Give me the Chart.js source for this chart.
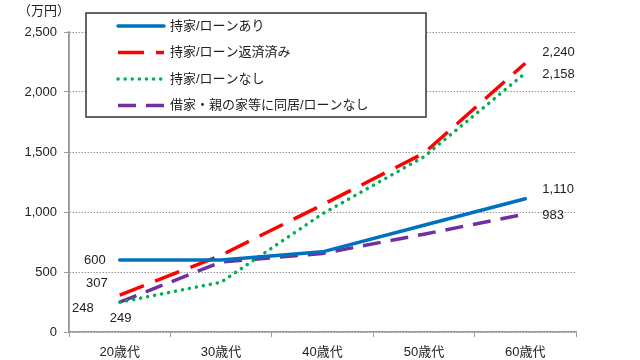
<!DOCTYPE html>
<html>
<head>
<meta charset="utf-8">
<script src="https://cdn.jsdelivr.net/npm/chart.js@4"></script>
<style>
  html, body { margin: 0; padding: 0; background: #fff; }
  #wrap { width: 640px; height: 360px; position: relative; }
</style>
</head>
<body>
<div id="wrap"><canvas id="chart" width="640" height="360"></canvas></div>
<script>
const categories = ['20歳代', '30歳代', '40歳代', '50歳代', '60歳代'];
const seriesNames = ['持家/ローンあり', '持家/ローン返済済み', '持家/ローンなし', '借家・親の家等に同居/ローンなし'];
const loanOwned = [600, 600, 668, 890, 1110];
const loanRepaid = [307, 640, 1060, 1490, 2240];
const noLoanOwned = [248, 415, 985, 1460, 2158];
const renting = [249, 583, 655, 815, 983];
const yTicks = [0, 500, 1000, 1500, 2000, 2500];

const FONT = '"Liberation Sans", "Noto Sans CJK JP", sans-serif';

// where the first / last value labels sit relative to their point
const labelSpots = [
  { first: [-14, 0, 'right'], last: [17, -9] },
  { first: [-12, -12, 'right'], last: [17, -11] },
  { first: [-26, 6, 'right'], last: [17, 1] },
  { first: [1, 16, 'center'], last: [17, 1] }
];

const endLabels = {
  id: 'endLabels',
  afterDatasetsDraw(chart) {
    const ctx = chart.ctx;
    ctx.save();
    ctx.font = '13px ' + FONT;
    ctx.fillStyle = '#222';
    ctx.textBaseline = 'middle';
    chart.data.datasets.forEach((ds, i) => {
      const pts = chart.getDatasetMeta(i).data;
      const a = pts[0], b = pts[pts.length - 1];
      const s = labelSpots[i];
      ctx.textAlign = s.first[2];
      ctx.fillText(ds.data[0].toLocaleString('en-US'), a.x + s.first[0], a.y + s.first[1]);
      ctx.textAlign = 'left';
      ctx.fillText(ds.data[ds.data.length - 1].toLocaleString('en-US'), b.x + s.last[0], b.y + s.last[1]);
    });
    ctx.restore();
  }
};

const boxLegend = {
  id: 'boxLegend',
  afterDraw(chart) {
    const ctx = chart.ctx;
    ctx.save();
    // solid y axis line (grid dash must not touch it)
    const { left, top, bottom } = chart.chartArea;
    ctx.strokeStyle = '#999';
    ctx.lineWidth = 1.5;
    ctx.beginPath();
    ctx.moveTo(left, top);
    ctx.lineTo(left, bottom);
    ctx.stroke();

    ctx.fillStyle = '#fff';
    ctx.fillRect(86, 13, 340, 104);
    ctx.strokeStyle = '#333';
    ctx.lineWidth = 1.5;
    ctx.strokeRect(86, 13, 340, 104);
    ctx.font = '13px ' + FONT;
    ctx.textBaseline = 'middle';
    ctx.textAlign = 'left';
    chart.data.datasets.forEach((ds, i) => {
      const y = 26 + i * 26.5;
      ctx.strokeStyle = ds.borderColor;
      ctx.lineWidth = ds.borderWidth;
      ctx.lineCap = ds.borderCapStyle || 'butt';
      ctx.setLineDash(ds.borderDash || []);
      ctx.beginPath();
      ctx.moveTo(118, y);
      ctx.lineTo(164, y);
      ctx.stroke();
      ctx.setLineDash([]);
      ctx.fillStyle = '#222';
      ctx.fillText(ds.label, 170, y);
    });
    ctx.fillStyle = '#222';
    ctx.fillText('（万円）', 18, 11);
    ctx.restore();
  }
};

new Chart(document.getElementById('chart'), {
  type: 'line',
  data: {
    labels: categories,
    datasets: [
      { label: seriesNames[0], data: loanOwned, borderColor: '#0070C0', borderWidth: 3.5, borderCapStyle: 'round' },
      { label: seriesNames[1], data: loanRepaid, borderColor: '#FF0000', borderWidth: 3.5, borderDash: [26, 12] },
      { label: seriesNames[2], data: noLoanOwned, borderColor: '#00B050', borderWidth: 3.5, borderCapStyle: 'round', borderDash: [0.1, 7] },
      { label: seriesNames[3], data: renting, borderColor: '#7030A0', borderWidth: 3.5, borderDash: [18, 10] }
    ].map(d => Object.assign(d, { fill: false, pointRadius: 0, tension: 0 }))
  },
  options: {
    responsive: false,
    animation: false,
    layout: { padding: { left: 0, right: 64, top: 32, bottom: 0 } },
    plugins: { legend: { display: false }, tooltip: { enabled: false } },
    scales: {
      x: {
        offset: true,
        grid: { display: true, drawOnChartArea: false, drawTicks: true, tickLength: 5, color: '#999', offset: true },
        border: { color: '#999', width: 1.5 },
        ticks: { color: '#222', font: { size: 13, family: FONT }, padding: 8, maxRotation: 0 },
        afterFit(scale) { scale.height = 28; }
      },
      y: {
        min: 0,
        max: 2500,
        afterBuildTicks(scale) { scale.ticks = yTicks.map(v => ({ value: v })); },
        grid: { color: '#999', tickLength: 5 },
        border: { color: '#999', width: 1.5, dash: [1.5, 1.5] },
        ticks: {
          color: '#222',
          font: { size: 13, family: FONT },
          padding: 7,
          callback: v => v.toLocaleString('en-US')
        },
        afterFit(scale) { scale.width = 69; }
      }
    }
  },
  plugins: [endLabels, boxLegend]
});
</script>
</body>
</html>
